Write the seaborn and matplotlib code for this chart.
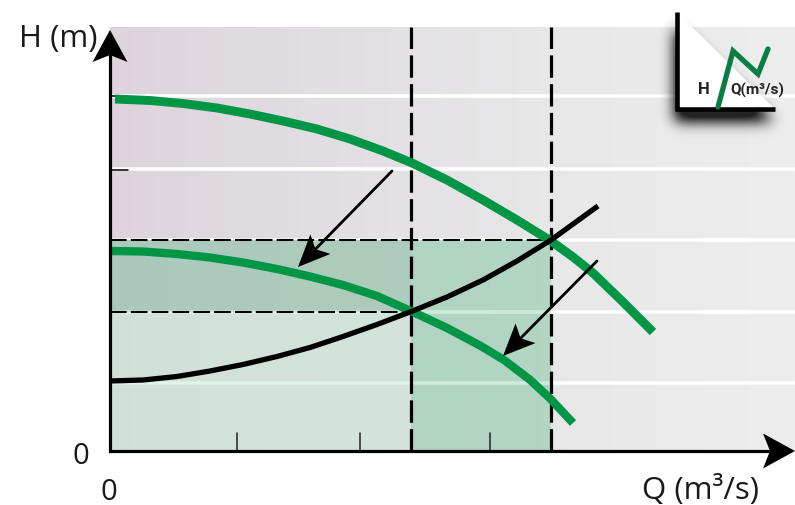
#!/usr/bin/env python3
# -*- coding: utf-8 -*-
import numpy as np
import pandas as pd
from matplotlib import pyplot as plt
from matplotlib.colors import LinearSegmentedColormap
from matplotlib.patches import Polygon, Rectangle
import seaborn as sns

sns.set_style('white')
plt.rcParams['font.family'] = ['Open Sans', 'DejaVu Sans']

# curves (1 unit = 100 px)
q_upper = [0.05, 0.40, 0.73, 1.07, 1.40, 1.73, 2.07, 2.40, 2.73, 3.02, 3.37, 3.73, 4.07, 4.41, 4.63, 4.83, 5.13, 5.43]
h_upper = [3.52, 3.505, 3.475, 3.43, 3.37, 3.30, 3.22, 3.12, 3.00, 2.88, 2.71, 2.51, 2.31, 2.10, 1.94, 1.78, 1.49, 1.19]
q_lower = [0.00, 0.33, 0.67, 1.00, 1.33, 1.67, 2.00, 2.33, 2.67, 3.03, 3.37, 3.70, 3.94, 4.20, 4.40, 4.63]
h_lower = [2.00, 1.995, 1.97, 1.935, 1.885, 1.82, 1.745, 1.66, 1.55, 1.39, 1.23, 1.055, 0.91, 0.712, 0.526, 0.28]
q_system = [0.00, 0.33, 0.67, 1.00, 1.33, 1.67, 2.00, 2.33, 2.67, 3.00, 3.37, 3.73, 4.07, 4.41, 4.88]
h_system = [0.70, 0.71, 0.745, 0.80, 0.865, 0.945, 1.035, 1.145, 1.265, 1.39, 1.54, 1.71, 1.90, 2.11, 2.45]

h_grid = [0.68, 1.39, 2.11, 2.82, 3.55]
q_ticks = [1.27, 2.50, 3.80]
q_op = [3.01, 4.41]
h_op = [1.39, 2.11]

x_max, y_max = 6.85, 4.24
green = '#009645'

fig = plt.figure(figsize=(7.95, 5.06), dpi=100)
ax = fig.add_axes([110 / 795, 54 / 506, 685 / 795, 424 / 506])

bg = LinearSegmentedColormap.from_list('bg', ['#ddd3dd', '#e2dfe3', '#e8e8e8', '#ededed'])
ax.imshow(np.linspace(0, 1, 256)[None, :], cmap=bg, aspect='auto',
          extent=(0, x_max, 0, y_max), zorder=0)

for h in h_grid:
    ax.axhline(h, color='white', lw=2.6, zorder=1)

# shaded operating areas
ax.add_patch(Rectangle((0, 0), q_op[0], h_op[0], color='#cde5d8', alpha=.72, lw=0, zorder=2))
ax.add_patch(Rectangle((0, h_op[0]), q_op[0], h_op[1] - h_op[0], color='#a3c8b5', alpha=.85, lw=0, zorder=2))
ax.add_patch(Rectangle((q_op[0], 0), q_op[1] - q_op[0], h_op[1], color='#93caac', alpha=.62, lw=0, zorder=2))
for h in h_grid[:2]:
    ax.plot([0, q_op[1]], [h, h], color='#e9fff2', lw=2.6, alpha=.4, zorder=3)

# dashed guides
for q in q_op:
    ax.plot([q, q], [0, y_max], color='black', lw=2.3, dashes=(7, 2), zorder=4)
ax.plot([0, q_op[0]], [h_op[0], h_op[0]], color='black', lw=1.5, dashes=(8, 2), zorder=4)
ax.plot([0, q_op[1]], [h_op[1], h_op[1]], color='black', lw=1.5, dashes=(8, 2), zorder=4)

# curves
for q, h, c, w in [(q_upper, h_upper, green, 6.4),
                   (q_lower, h_lower, green, 6.0),
                   (q_system, h_system, 'black', 3.8)]:
    df = pd.DataFrame({'Q': q, 'H': h})
    sns.lineplot(data=df, x='Q', y='H', sort=False, color=c, lw=w, ax=ax, zorder=5,
                 solid_capstyle='butt', solid_joinstyle='round', errorbar=None)


def stealth(tip, angle, length=.32, width=.35, notch=.07, **kw):
    # swept back arrow head, tip in data units
    d = np.array([np.cos(angle), np.sin(angle)])
    n = np.array([-d[1], d[0]])
    tip = np.array(tip)
    back = tip - d * length
    pts = [tip, back + n * width / 2, tip - d * (length - notch), back - n * width / 2]
    ax.add_patch(Polygon(pts, closed=True, fc='black', ec='none', clip_on=False, **kw))


# shift arrows between the curves
for start, end in [((2.82, 2.80), (1.88, 1.84)), ((4.87, 1.90), (3.93, 0.95))]:
    ang = np.arctan2(end[1] - start[1], end[0] - start[0])
    d = np.array([np.cos(ang), np.sin(ang)])
    ax.plot([start[0], end[0] - d[0] * .2], [start[1], end[1] - d[1] * .2],
            color='black', lw=2.0, zorder=6)
    stealth(end, ang, width=.28, zorder=6)

# axes with arrow heads
ax.plot([0, 0], [0, 3.95], color='black', lw=2.3, zorder=7, clip_on=False, solid_capstyle='projecting')
ax.plot([0, 6.6], [0, 0], color='black', lw=2.3, zorder=7, clip_on=False, solid_capstyle='butt')
stealth((0, y_max - .03), np.pi / 2, zorder=7)
stealth((x_max, 0), 0, zorder=7)

# ticks
for q in q_ticks:
    ax.plot([q, q], [0, .18], color='#222222', lw=1.1, zorder=4)
ax.plot([0, .06], [h_grid[4], h_grid[4]], color='black', lw=1.1, zorder=4)
ax.plot([0, .18], [h_grid[3] - .01, h_grid[3] - .01], color='black', lw=1.1, zorder=4)

# labels
ax.text(-.91, 4.13, 'H (m)', fontsize=22.5, color='#1a1a1a', ha='left', va='center', clip_on=False)
ax.text(5.32, -.39, 'Q (m³/s)', fontsize=22.5, color='#1a1a1a', ha='left', va='center', clip_on=False)
ax.text(-.29, -.05, '0', fontsize=21, color='#1a1a1a', ha='center', va='center', clip_on=False)
ax.text(-.01, -.48, '0', fontsize=21, color='#1a1a1a', ha='center', va='baseline', clip_on=False)

# small page icon top right, blurred shadow first
corner_x, corner_y = 5.67, 3.42
sx = np.linspace(5.2, 6.85, 166)
sy = np.linspace(2.95, 4.40, 146)
xx, yy = np.meshgrid(sx, sy)
off_x, off_y = corner_x - .03, corner_y - .12
mask = ((xx > off_x) & (yy > off_y) & ((xx - off_x) / 1.0 + (yy - off_y) / .95 < 1)).astype(float)
kernel = np.exp(-np.arange(-24, 25) ** 2 / (2 * 7.0 ** 2))
kernel /= kernel.sum()
mask = np.apply_along_axis(lambda r: np.convolve(r, kernel, mode='same'), 0, mask)
mask = np.apply_along_axis(lambda r: np.convolve(r, kernel, mode='same'), 1, mask)
shadow = np.zeros(mask.shape + (4,))
shadow[..., 3] = np.clip(mask * 1.15, 0, .85)
im = ax.imshow(shadow, origin='lower', extent=(5.2, 6.85, 2.95, 4.40), aspect='auto', zorder=8, interpolation='bilinear')
im.set_clip_on(False)
ax.add_patch(Polygon([(corner_x, 4.39), (6.65, corner_y), (corner_x, corner_y)], fc='white', ec='none',
                     zorder=9, clip_on=False))
ax.plot([corner_x, corner_x, 6.65], [4.39, corner_y, corner_y], color='black', lw=3.3,
        zorder=10, clip_on=False, solid_capstyle='butt', solid_joinstyle='miter')
ax.plot([6.08, 6.23, 6.48, 6.58], [3.44, 4.00, 3.77, 4.02], color='#0a7d45', lw=3.8,
        zorder=10, clip_on=False, solid_joinstyle='miter')
ax.text(5.94, 3.62, 'H', fontsize=12, fontweight='bold', ha='center', va='center', color='#222222',
        family=['Liberation Sans Narrow', 'Roboto'], zorder=11, clip_on=False)
ax.text(6.47, 3.62, 'Q(m³/s)', fontsize=11, fontweight='bold', ha='center', va='center',
        color='#222222', family=['Liberation Sans Narrow', 'Roboto'], zorder=11, clip_on=False)

ax.set_xlim(0, x_max)
ax.set_ylim(0, y_max)
ax.set_xlabel('')
ax.set_ylabel('')
ax.set_xticks([])
ax.set_yticks([])
sns.despine(ax=ax, left=True, bottom=True)
fig.savefig('out.png', dpi=100)
